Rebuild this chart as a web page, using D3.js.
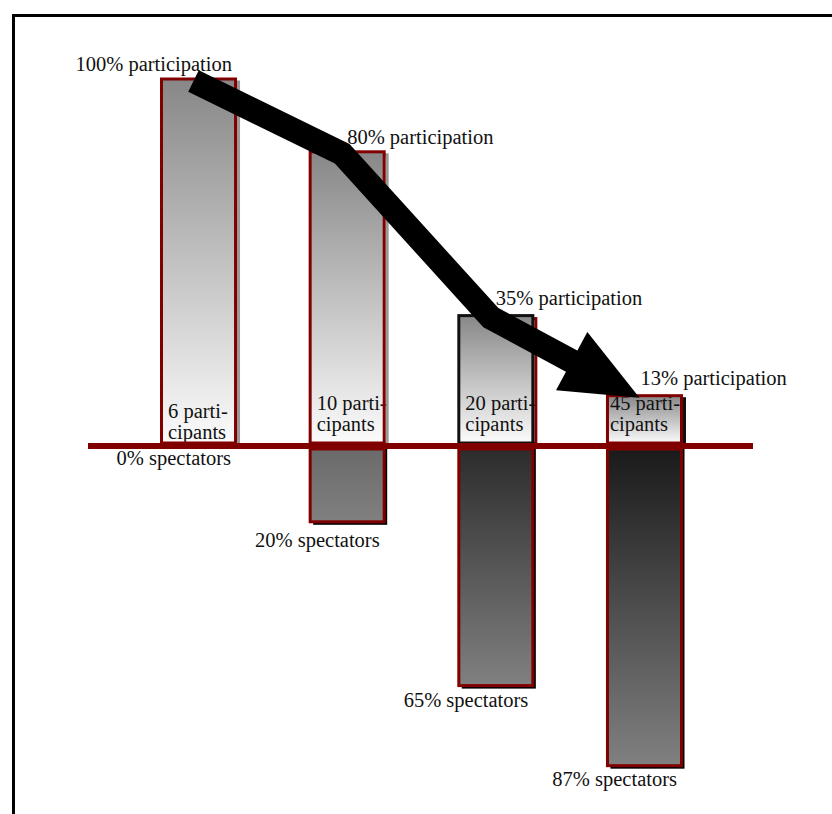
<!DOCTYPE html>
<html><head><meta charset="utf-8">
<script src="https://cdn.jsdelivr.net/npm/d3@7"></script>
<style>html,body{margin:0;padding:0;background:#fff;}svg{display:block;}</style>
</head><body>
<script>
// ---- data ----
const categories = ["6", "10", "20", "45"];           // group size (participants)
const participation = [100, 80, 35, 13];               // % participation
const spectators = [0, 20, 65, 87];                    // % spectators
const insideLine1 = ["6 parti-", "10 parti-", "20 parti-", "45 parti-"];
const insideLine2 = ["cipants", "cipants", "cipants", "cipants"];

const W = 832, H = 814;
const svg = d3.select("body").append("svg").attr("width", W).attr("height", H);
const defs = svg.append("defs");

const x = d3.scaleBand().domain(categories).range([161.5, 681.5]).paddingInner(0.502).paddingOuter(0);
const base = 446;
const yUp = d3.scaleLinear().domain([0, 100]).range([base - 3, base - 3 - 364]);
const yDown = d3.scaleLinear().domain([0, 100]).range([base + 3, base + 3 + 364]);
const bw = x.bandwidth();

// gradients
const gUp = defs.append("linearGradient").attr("id", "gUp").attr("x1", 0).attr("y1", 0).attr("x2", 0).attr("y2", 1);
gUp.append("stop").attr("offset", 0).attr("stop-color", "#878787");
gUp.append("stop").attr("offset", 1).attr("stop-color", "#fbfbfb");
const downTop = ["#6a6a6a", "#6a6a6a", "#2c2c2c", "#1a1a1a"];
downTop.forEach((c, i) => {
  const g = defs.append("linearGradient").attr("id", "gDown" + i).attr("x1", 0).attr("y1", 0).attr("x2", 0).attr("y2", 1);
  g.append("stop").attr("offset", 0).attr("stop-color", c);
  g.append("stop").attr("offset", 1).attr("stop-color", "#808080");
});

// frame
svg.append("path").attr("d", `M13.5,${H} L13.5,15.5 L${W},15.5`).attr("fill", "none").attr("stroke", "#000").attr("stroke-width", 3);

const upStroke = ["#800000", "#800000", "#111", "#800000"];
const upShadow = ["#999", "#999", "#800000", "#111"];
const font = "'Liberation Serif','Times New Roman',serif";

// participation bars: shadow, fill
const idx = d3.range(categories.length);
svg.selectAll("rect.upShadow").data(idx).join("rect")
  .attr("x", i => x(categories[i]) + 3).attr("y", i => yUp(participation[i]) + 3)
  .attr("width", bw).attr("height", i => yUp(0) - yUp(participation[i]) - 3)
  .attr("fill", "none").attr("stroke", i => upShadow[i]).attr("stroke-width", 3);
svg.selectAll("rect.up").data(idx).join("rect")
  .attr("x", i => x(categories[i])).attr("y", i => yUp(participation[i]))
  .attr("width", bw).attr("height", i => yUp(0) - yUp(participation[i]))
  .attr("fill", "url(#gUp)");

// inside labels
const inY1 = [418, 410, 410, 410];
const inX = [8, 8, 8, 4];
svg.selectAll("text.in1").data(idx).join("text")
  .attr("x", i => x(categories[i]) - 1.5 + inX[i]).attr("y", i => inY1[i])
  .text(i => insideLine1[i]);
svg.selectAll("text.in2").data(idx).join("text")
  .attr("x", i => x(categories[i]) - 1.5 + inX[i]).attr("y", i => inY1[i] + 21)
  .text(i => insideLine2[i]);

// participation bar outlines
svg.selectAll("rect.upStroke").data(idx).join("rect")
  .attr("x", i => x(categories[i])).attr("y", i => yUp(participation[i]))
  .attr("width", bw).attr("height", i => yUp(0) - yUp(participation[i]))
  .attr("fill", "none").attr("stroke", i => upStroke[i]).attr("stroke-width", 3);

// spectator bars
const sIdx = idx.filter(i => spectators[i] > 0);
svg.selectAll("rect.downShadow").data(sIdx).join("rect")
  .attr("x", i => x(categories[i]) + 3).attr("y", yDown(0))
  .attr("width", bw).attr("height", i => yDown(spectators[i]) - yDown(0) + 3)
  .attr("fill", "#000");
svg.selectAll("rect.down").data(sIdx).join("rect")
  .attr("x", i => x(categories[i])).attr("y", yDown(0))
  .attr("width", bw).attr("height", i => yDown(spectators[i]) - yDown(0))
  .attr("fill", i => `url(#gDown${i})`).attr("stroke", "#800000").attr("stroke-width", 3);

// baseline
svg.append("line").attr("x1", 88).attr("x2", 753).attr("y1", base).attr("y2", base)
  .attr("stroke", "#800000").attr("stroke-width", 6);

// arrow (through bar tops)
const pts = idx.map(i => [x(categories[i]) + bw / 2 - 5, yUp(participation[i]) + 2]);
const apex = pts[pts.length - 1];
const prev = pts[pts.length - 2];
const dx = apex[0] - prev[0], dy = apex[1] - prev[1];
const L = Math.hypot(dx, dy), ux = dx / L, uy = dy / L;
const headLen = 77, headHalf = 33;
const bmid = [apex[0] - ux * headLen, apex[1] - uy * headLen];
const shaft = pts.slice(0, -1).concat([[bmid[0] + ux * 2, bmid[1] + uy * 2]]);
svg.append("path").attr("d", d3.line()(shaft)).attr("fill", "none").attr("stroke", "#000")
  .attr("stroke-width", 24).attr("stroke-linejoin", "miter").attr("stroke-linecap", "butt");
const px = -uy, py = ux;
svg.append("path").attr("d", d3.line()([
  [bmid[0] + px * headHalf, bmid[1] + py * headHalf],
  apex,
  [bmid[0] - px * headHalf, bmid[1] - py * headHalf]
]) + "Z").attr("fill", "#000");

// participation labels
svg.selectAll("text.pl").data(idx).join("text")
  .attr("x", i => i === 0 ? x(categories[i]) + bw - 3.5 : x(categories[i]) + bw / 2 + (i === 3 ? -4 : 0))
  .attr("y", i => yUp(participation[i]) - (i < 2 ? 8 : 11))
  .attr("text-anchor", i => i === 0 ? "end" : "start")
  .text(i => participation[i] + "% participation");

// spectator labels
const sOff = [16, 24, 20, 19];
svg.selectAll("text.sl").data(idx).join("text")
  .attr("x", i => x(categories[i]) + bw - 4.5)
  .attr("y", i => (spectators[i] > 0 ? yDown(spectators[i]) + 1.5 : base + 3) + sOff[i])
  .attr("text-anchor", "end")
  .text(i => spectators[i] + "% spectators");

svg.selectAll("text").attr("font-family", font).attr("font-size", 20.5).attr("fill", "#111");
</script>
</body></html>
